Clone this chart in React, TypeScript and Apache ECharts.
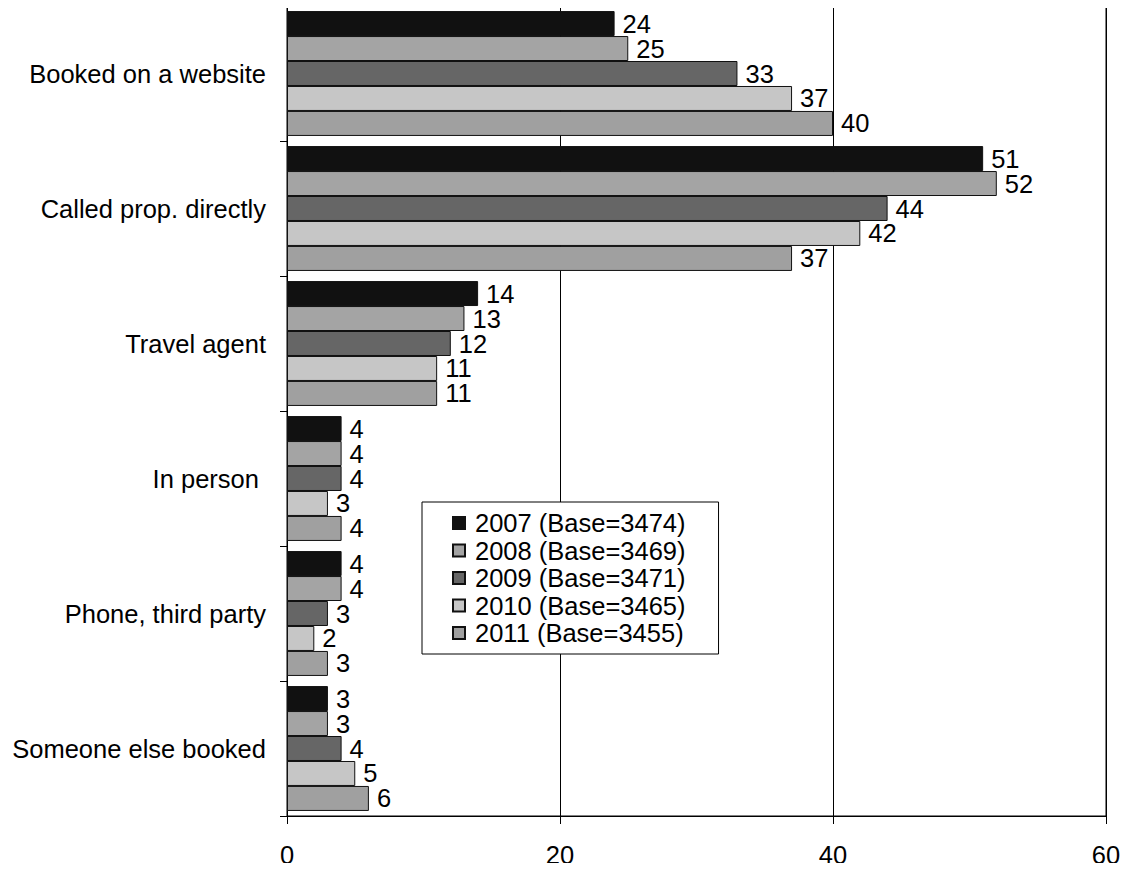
import React, { useEffect, useRef } from "react";
import * as echarts from "echarts";

const categories = [
  "Booked on a website",
  "Called prop. directly",
  "Travel agent",
  "In person ",
  "Phone, third party",
  "Someone else booked",
];

const seriesNames = [
  "2007 (Base=3474)",
  "2008 (Base=3469)",
  "2009 (Base=3471)",
  "2010 (Base=3465)",
  "2011 (Base=3455)",
];

const values2007 = [24, 51, 14, 4, 4, 3];
const values2008 = [25, 52, 13, 4, 4, 3];
const values2009 = [33, 44, 12, 4, 3, 4];
const values2010 = [37, 42, 11, 3, 2, 5];
const values2011 = [40, 37, 11, 4, 3, 6];

const xTicks = [0, 20, 40, 60];

const seriesValues = [values2007, values2008, values2009, values2010, values2011];
const seriesColors = ["#111111", "#a4a4a4", "#666666", "#c6c6c6", "#a0a0a0"];

const FONT = "'Liberation Sans', Arial, sans-serif";
const FONT_SIZE = 25.5;

export default function App() {
  const ref = useRef<HTMLDivElement>(null);

  useEffect(() => {
    if (!ref.current) return;
    const chart = echarts.init(ref.current, null, { renderer: "svg" });
    chart.setOption({
      animation: false,
      backgroundColor: "#ffffff",
      grid: {
        left: 287,
        right: 26,
        top: 6,
        bottom: 55,
        containLabel: false,
        outerBoundsMode: "none",
        show: true,
        borderColor: "#000000",
        borderWidth: 1,
      },
      legend: {
        orient: "vertical",
        left: 422,
        top: 502,
        padding: [8, 33, 8, 30],
        borderColor: "#000000",
        borderWidth: 1,
        backgroundColor: "#ffffff",
        itemWidth: 12,
        itemHeight: 12,
        itemGap: 1.5,
        icon: "rect",
        data: seriesNames,
        textStyle: {
          fontFamily: FONT,
          fontSize: FONT_SIZE,
          lineHeight: 25,
          color: "#000000",
          padding: [0, 0, 0, 5],
        },
      },
      xAxis: {
        type: "value",
        min: xTicks[0],
        max: xTicks[xTicks.length - 1],
        interval: 20,
        axisLine: { show: true, lineStyle: { color: "#000000", width: 1 } },
        axisTick: { show: true, length: 8, lineStyle: { color: "#000000" } },
        axisLabel: { fontFamily: FONT, fontSize: FONT_SIZE, color: "#000000", margin: 26 },
        splitLine: { show: true, lineStyle: { color: "#000000", width: 1 } },
      },
      yAxis: {
        type: "category",
        inverse: true,
        data: categories,
        axisLine: { show: true, lineStyle: { color: "#000000", width: 1 } },
        axisTick: { show: true, length: 7, lineStyle: { color: "#000000" } },
        axisLabel: { fontFamily: FONT, fontSize: FONT_SIZE, color: "#000000", margin: 21 },
        splitLine: { show: false },
      },
      series: seriesNames.map((name, i) => ({
        name,
        type: "bar",
        data: seriesValues[i],
        barGap: "0%",
        barCategoryGap: "7.5%",
        itemStyle: { color: seriesColors[i], borderColor: "#111111", borderWidth: 1 },
        label: {
          show: true,
          position: "right",
          distance: 8,
          fontFamily: FONT,
          fontSize: FONT_SIZE,
          lineHeight: 22,
          color: "#000000",
        },
      })),
    });
    return () => chart.dispose();
  }, []);

  return <div ref={ref} style={{ width: 1132, height: 871, margin: -8 }} />;
}
